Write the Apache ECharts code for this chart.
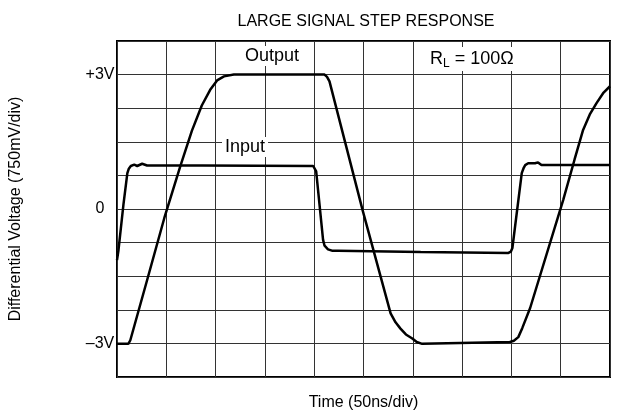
<!DOCTYPE html>
<html>
<head>
<meta charset="utf-8">
<script src="https://cdn.jsdelivr.net/npm/echarts@6/dist/echarts.min.js"></script>
<style>
  html, body { margin: 0; padding: 0; background: #fff; }
  #chart { width: 618px; height: 418px; }
</style>
</head>
<body>
<div id="chart"></div>
<script>
// time in divisions (50ns/div), voltage in volts
const inputX = [0, 0.03, 0.13, 0.21, 0.24, 0.28, 0.35, 0.41, 0.51, 0.61, 1.72, 3.98, 4.04, 4.18, 4.21, 4.28, 4.36, 4.48, 6.16, 7.94, 7.99, 8.02, 8.21, 8.25, 8.28, 8.34, 8.48, 8.54, 8.61, 8.98, 10];
const inputV = [-1.14, -0.92, 0.09, 0.80, 0.90, 0.96, 0.99, 0.96, 1.01, 0.97, 0.97, 0.96, 0.84, -0.69, -0.82, -0.90, -0.93, -0.93, -0.96, -0.98, -0.95, -0.87, 0.80, 0.92, 0.98, 1.02, 1.02, 1.04, 0.98, 0.98, 0.98];

const outputX = [0, 0.23, 0.27, 0.61, 0.96, 1.28, 1.52, 1.72, 1.89, 2.03, 2.17, 2.37, 4.21, 4.26, 4.31, 4.98, 5.55, 5.65, 5.75, 5.86, 5.99, 6.08, 6.19, 7.97, 8.05, 8.14, 8.22, 8.38, 9.05, 9.28, 9.45, 9.59, 9.73, 9.87, 10];
const outputV = [-3.01, -3.01, -2.93, -1.59, -0.20, 0.94, 1.75, 2.31, 2.66, 2.87, 2.96, 3.00, 3.00, 2.95, 2.85, -0.02, -2.33, -2.53, -2.67, -2.80, -2.89, -2.97, -3.01, -2.97, -2.94, -2.86, -2.66, -2.21, 0.20, 1.10, 1.75, 2.11, 2.37, 2.60, 2.74];

const yLabels = { "3": "+3V", "0": "0", "-3": "\u20133V" };

const font = "Liberation Sans, Arial, sans-serif";
const pairs = (xs, ys) => xs.map((x, i) => [x, ys[i]]);

const chart = echarts.init(document.getElementById("chart"));
chart.setOption({
  animation: false,
  backgroundColor: "#fff",
  title: {
    text: "LARGE SIGNAL STEP RESPONSE",
    left: 361,
    textAlign: "center",
    top: 9,
    textStyle: { fontFamily: font, fontSize: 16, fontWeight: "normal", color: "#000" }
  },
  grid: {
    left: 114,
    top: 41,
    right: 8,
    bottom: 41,
    show: true,
    borderColor: "#000",
    borderWidth: 2
  },
  xAxis: {
    type: "value",
    min: 0,
    max: 10,
    interval: 1,
    name: "Time (50ns/div)",
    nameLocation: "middle",
    nameGap: 18,
    nameTextStyle: { fontFamily: font, fontSize: 16, color: "#000" },
    axisLine: { show: false },
    axisTick: { show: false },
    axisLabel: { show: false },
    splitLine: { show: true, lineStyle: { color: "#333", width: 1 } }
  },
  yAxis: {
    type: "value",
    min: -3.75,
    max: 3.75,
    interval: 0.75,
    name: "Differential Voltage (750mV/div)",
    nameLocation: "middle",
    nameRotate: 90,
    nameGap: 93,
    nameTextStyle: { fontFamily: font, fontSize: 16, color: "#000" },
    axisLine: { show: false },
    axisTick: { show: false },
    axisLabel: {
      margin: 17,
      align: "center",
      fontFamily: font,
      fontSize: 16,
      color: "#000",
      formatter: v => {
        const k = String(Math.round(v * 100) / 100);
        return yLabels[k] || "";
      }
    },
    splitLine: { show: true, lineStyle: { color: "#333", width: 1 } }
  },
  graphic: [
    {
      type: "text", left: 243, top: 46, z: 10,
      style: { text: "Output", font: "18px " + font, fill: "#000", backgroundColor: "#fff", padding: [1, 2] }
    },
    {
      type: "text", left: 222, top: 137, z: 10,
      style: { text: "Input", font: "18px " + font, fill: "#000", backgroundColor: "#fff", padding: [1, 3] }
    },
    {
      type: "text", left: 427, top: 47, z: 10,
      style: {
        text: "{a|R}{s|L}{a| = 100\u03a9}",
        backgroundColor: "#fff",
        padding: [1, 3],
        rich: {
          a: { fontFamily: font, fontSize: 18, color: "#000" },
          s: { fontFamily: font, fontSize: 12, color: "#000", padding: [10, 0, 0, 0] }
        }
      }
    }
  ],
  series: [
    {
      name: "Input",
      type: "line",
      data: pairs(inputX, inputV),
      symbol: "none",
      lineStyle: { color: "#000", width: 2.5 },
      z: 5
    },
    {
      name: "Output",
      type: "line",
      data: pairs(outputX, outputV),
      symbol: "none",
      lineStyle: { color: "#000", width: 2.5 },
      z: 5
    }
  ]
});
</script>
</body>
</html>
